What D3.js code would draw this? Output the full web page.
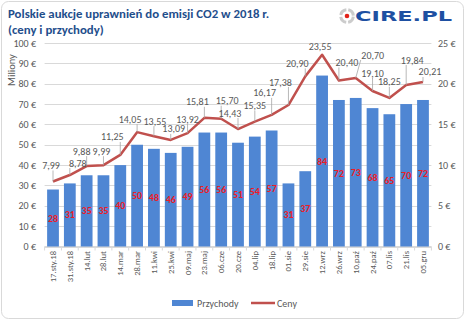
<!DOCTYPE html>
<html>
<head>
<meta charset="utf-8">
<script src="https://cdn.jsdelivr.net/npm/d3@7"></script>
<style>
  body { margin: 0; background: #fff; }
  svg { display: block; font-family: Carlito, Calibri, "Liberation Sans", Arial, sans-serif; }
</style>
</head>
<body>
<script>
// Auction dates, revenue (mln EUR) and clearing price (EUR/t)
const dates = ['17.sty.18', '31.sty.18', '14.lut', '28.lut', '14.mar', '28.mar', '11.kwi', '25.kwi',
    '09.maj', '23.maj', '06.cze', '20.cze', '04.lip', '18.lip', '01.sie', '29.sie', '12.wrz', '26.wrz',
    '10.paź', '24.paź', '07.lis', '21.lis', '05.gru'];
const revenue = [28, 31, 35, 35, 40, 50, 48, 46, 49, 56, 56, 51, 54, 57, 31, 37, 84, 72, 73, 68, 65, 70, 72];
const prices = [7.99, 8.78, 9.88, 9.99, 11.25, 14.05, 13.55, 13.09, 13.92, 15.81, 15.70, 14.43, 15.35,
    16.17, 17.38, 20.90, 23.55, 20.40, 20.70, 19.10, 18.25, 19.84, 20.21];
const revenueTicks = [0, 10, 20, 30, 40, 50, 60, 70, 80, 90, 100];
const priceTicks = [0, 5, 10, 15, 20, 25];

// hand-placed price labels: shift from the point, in px
const priceLabelShift = [[-2, -16], [8, -12], [-5, -15], [-2, -14], [-8, -18], [-7, -13], [1, -15],
    [3, -11], [0, -14], [-7, -16], [6, -18], [-8, -16], [0, -16], [-7, -22], [-8, -23], [-8, -13],
    [-2, -8], [8, -18], [17, -23], [0, -18], [0, -16], [6, -25], [7, -10]];

const width = 465,
    height = 321,
    plotLeft = 44.6,
    plotRight = 431.4,
    plotTop = 43,
    plotBottom = 246.5;

const barColor = '#4f86d3',
    lineColor = '#c0504d',
    textColor = '#595959',
    gridColor = '#d9d9d9';

const fmt = d3.format('.2f');
const comma = v => fmt(v).replace('.', ',');

let svg = d3.select('body').append('svg')
    .attr('width', width)
    .attr('height', height);

// Frame
svg.append('rect')
    .attr('x', 1.5).attr('y', 1.5)
    .attr('width', width - 3).attr('height', height - 4)
    .attr('rx', 7)
    .attr('fill', '#fff')
    .attr('stroke', gridColor);

// Title
let title = svg.append('text')
    .attr('x', 8)
    .attr('fill', '#1f4e8c')
    .attr('font-weight', 'bold')
    .attr('font-size', 12.8);
title.append('tspan').attr('x', 8).attr('y', 18).text('Polskie aukcje uprawnień do emisji CO2 w 2018 r.');
title.append('tspan').attr('x', 8).attr('y', 34.3).text('(ceny i przychody)');

// Logo
let logo = svg.append('g').attr('transform', 'translate(347,16)');
logo.append('circle')
    .attr('r', 6.3)
    .attr('fill', 'none')
    .attr('stroke', '#cccccc')
    .attr('stroke-width', 3)
    .attr('stroke-dasharray', '7.9 2')
    .attr('transform', 'rotate(5)');
logo.append('circle')
    .attr('r', 2.3)
    .attr('fill', '#e2231a');
svg.append('text')
    .attr('x', 355)
    .attr('y', 21)
    .attr('font-family', '"DejaVu Sans", sans-serif')
    .attr('font-weight', 900)
    .attr('font-size', 14)
    .attr('textLength', 97)
    .attr('lengthAdjust', 'spacingAndGlyphs')
    .attr('fill', '#1e50a2')
    .text('CIRE.PL');

// Scales
let x = d3.scaleBand()
    .domain(dates)
    .range([plotLeft, plotRight])
    .paddingInner(0.3)
    .paddingOuter(0.15);

let yLeft = d3.scaleLinear()
    .domain([0, 100])
    .range([plotBottom, plotTop]);

let yRight = d3.scaleLinear()
    .domain([0, 25])
    .range([plotBottom, plotTop]);

const cx = d => x(d) + x.bandwidth() / 2;

// Grid lines
svg.append('g')
    .selectAll('line')
    .data(revenueTicks)
    .enter().append('line')
    .attr('x1', plotLeft)
    .attr('x2', plotRight)
    .attr('y1', d => Math.round(yLeft(d)) + 0.5)
    .attr('y2', d => Math.round(yLeft(d)) + 0.5)
    .attr('stroke', gridColor);

// Left axis (revenue)
svg.append('g')
    .selectAll('text')
    .data(revenueTicks)
    .enter().append('text')
    .attr('x', 36)
    .attr('y', d => yLeft(d) + 3.5)
    .attr('text-anchor', 'end')
    .attr('font-size', 10)
    .attr('fill', textColor)
    .text(d => d + ' €');

svg.append('text')
    .attr('transform', 'translate(15,86) rotate(-90)')
    .attr('font-size', 10.5)
    .attr('fill', textColor)
    .text('Miliony');

// Right axis (price)
svg.append('g')
    .selectAll('text')
    .data(priceTicks)
    .enter().append('text')
    .attr('x', 438)
    .attr('y', d => yRight(d) + 3.5)
    .attr('font-size', 10)
    .attr('fill', textColor)
    .text(d => d + ' €');

// Category axis with ticks between the dates
let xAxis = svg.append('g');
xAxis.append('line')
    .attr('x1', plotLeft).attr('x2', plotRight)
    .attr('y1', plotBottom).attr('y2', plotBottom)
    .attr('stroke', gridColor);
xAxis.selectAll('line.tick')
    .data(d3.range(dates.length + 1))
    .enter().append('line')
    .attr('class', 'tick')
    .attr('x1', i => plotLeft + i * x.step())
    .attr('x2', i => plotLeft + i * x.step())
    .attr('y1', plotBottom)
    .attr('y2', plotBottom + 4)
    .attr('stroke', gridColor);
xAxis.selectAll('text')
    .data(dates)
    .enter().append('text')
    .attr('transform', d => 'translate(' + (cx(d) + 3) + ',' + (plotBottom + 4.5) + ') rotate(-90)')
    .attr('text-anchor', 'end')
    .attr('font-size', 8.6)
    .attr('fill', textColor)
    .text(d => d);

// Revenue bars
svg.append('g')
    .selectAll('rect')
    .data(revenue)
    .enter().append('rect')
    .attr('x', (d, i) => x(dates[i]))
    .attr('y', d => yLeft(d))
    .attr('width', x.bandwidth())
    .attr('height', d => plotBottom - yLeft(d))
    .attr('fill', barColor);

svg.append('g')
    .selectAll('text')
    .data(revenue)
    .enter().append('text')
    .attr('x', (d, i) => cx(dates[i]))
    .attr('y', d => (yLeft(d) + plotBottom) / 2 + 3.5)
    .attr('text-anchor', 'middle')
    .attr('font-size', 10)
    .attr('font-weight', 'bold')
    .attr('fill', '#ee1c25')
    .text(d => d);

// Price line
let line = d3.line()
    .x((d, i) => cx(dates[i]))
    .y(d => yRight(d));

svg.append('path')
    .datum(prices)
    .attr('d', line)
    .attr('fill', 'none')
    .attr('stroke', lineColor)
    .attr('stroke-width', 2.5)
    .attr('stroke-linejoin', 'round');

// Price labels with leader lines
let priceLabels = prices.map((d, i) => {
    let px = cx(dates[i]), py = yRight(d);
    let lx = px + priceLabelShift[i][0], ly = py + priceLabelShift[i][1];
    // nearest point of the label box to the data point
    let ex = Math.max(lx - 12, Math.min(lx + 12, px)),
        ey = Math.max(ly - 5, Math.min(ly + 5, py));
    return {value: d, px: px, py: py, lx: lx, ly: ly, ex: ex, ey: ey};
});

svg.append('g')
    .selectAll('line')
    .data(priceLabels.filter(d => Math.hypot(d.px - d.ex, d.py - d.ey) > 3))
    .enter().append('line')
    .attr('x1', d => d.ex).attr('y1', d => d.ey)
    .attr('x2', d => d.px).attr('y2', d => d.py)
    .attr('stroke', '#a6a6a6')
    .attr('stroke-width', 0.8);

svg.append('g')
    .selectAll('text')
    .data(priceLabels)
    .enter().append('text')
    .attr('x', d => d.lx)
    .attr('y', d => d.ly + 3.5)
    .attr('text-anchor', 'middle')
    .attr('font-size', 10)
    .attr('fill', textColor)
    .text(d => comma(d.value));

// Legend
let legend = svg.append('g');
legend.append('rect')
    .attr('x', 172).attr('y', 300)
    .attr('width', 21).attr('height', 6)
    .attr('fill', barColor);
legend.append('text')
    .attr('x', 197).attr('y', 306.5)
    .attr('font-size', 10)
    .attr('fill', textColor)
    .text('Przychody');
legend.append('line')
    .attr('x1', 251).attr('x2', 275)
    .attr('y1', 303).attr('y2', 303)
    .attr('stroke', lineColor)
    .attr('stroke-width', 2.5);
legend.append('text')
    .attr('x', 277).attr('y', 306.5)
    .attr('font-size', 10)
    .attr('fill', textColor)
    .text('Ceny');
</script>
</body>
</html>
